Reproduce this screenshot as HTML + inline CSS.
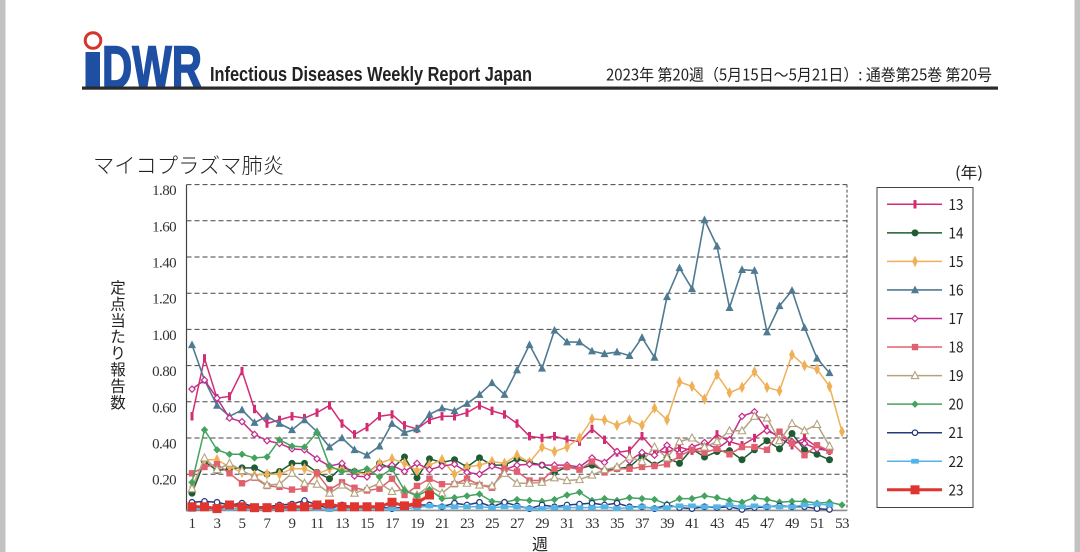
<!DOCTYPE html>
<html lang="ja">
<head>
<meta charset="utf-8">
<title>マイコプラズマ肺炎</title>
<style>
html,body{margin:0;padding:0;background:#fff;}
body{width:1080px;height:552px;overflow:hidden;position:relative;}
svg{position:absolute;left:0;top:0;display:block;}
.num{font-family:"Liberation Serif",serif;font-size:15px;fill:#333;letter-spacing:-0.6px;}
.jp{font-family:"Noto Sans CJK JP","Liberation Sans",sans-serif;fill:#222;}
</style>
</head>
<body>
<svg id="chart" width="1080" height="552" viewBox="0 0 1080 552">
  <rect x="0" y="0" width="5.5" height="552" fill="#c2c2c2"/>
  <rect x="1074.5" y="0" width="5.5" height="552" fill="#c2c2c2"/>
  <g>
    <circle cx="93" cy="40.5" r="7.8" fill="none" stroke="#d3352c" stroke-width="3"/>
    <rect x="85.5" y="52" width="14.5" height="36" fill="#1f4fa3"/>
    <text x="102" y="87.5" font-family="Liberation Sans" font-weight="bold" font-size="59" fill="#1f4fa3" stroke="#1f4fa3" stroke-width="1.6" textLength="100" lengthAdjust="spacingAndGlyphs">DWR</text>
  </g>
  <text x="210" y="81" font-family="Liberation Sans" font-weight="bold" font-size="20.5" fill="#222" textLength="322" lengthAdjust="spacingAndGlyphs">Infectious Diseases Weekly Report Japan</text>
  <text class="jp" x="606" y="80.5" font-size="16" textLength="386" lengthAdjust="spacingAndGlyphs">2023年 第20週（5月15日〜5月21日）: 通巻第25巻 第20号</text>
  <rect x="82" y="86.5" width="916" height="3.2" fill="#2a2a2a"/>
  <text class="jp" x="93" y="173" font-size="21" font-weight="300" textLength="191" lengthAdjust="spacingAndGlyphs">マイコプラズマ肺炎</text>
  <text class="jp" x="955" y="178" font-size="15.5" textLength="28" lengthAdjust="spacingAndGlyphs">(年)</text>
  <g id="yTitle" class="jp" font-size="15.5"></g>
  <text class="jp" x="540" y="550" font-size="16" text-anchor="middle">週</text>
  <g id="grid"></g>
  <g id="yTickLabels"></g>
  <g id="xTickLabels"></g>
  <g id="marks"></g>
  <g id="legend"></g>
</svg>
<script>
const yTicks = [0.20, 0.40, 0.60, 0.80, 1.00, 1.20, 1.40, 1.60, 1.80];
const xTicks = [1,3,5,7,9,11,13,15,17,19,21,23,25,27,29,31,33,35,37,39,41,43,45,47,49,51,53];
const yearLabels = ['13','14','15','16','17','18','19','20','21','22','23'];
const yTitleChars = ['定','点','当','た','り','報','告','数'];

const y13 = [.52,.84,.62,.63,.77,.56,.48,.50,.52,.51,.54,.58,.48,.42,.46,.52,.53,.47,.45,.50,.52,.52,.54,.58,.55,.53,.48,.41,.40,.41,.39,.38,.45,.39,.32,.33,.41,.33,.32,.35,.33,.35,.42,.38,.36,.40,.45,.40,.36,.40,.35,.33];
const y14 = [.095,.27,.22,.23,.235,.235,.20,.215,.26,.26,.21,.175,.24,.215,.205,.26,.23,.295,.18,.285,.265,.28,.24,.29,.25,.25,.285,.265,.25,.21,.24,.23,.25,.22,.23,.24,.30,.25,.29,.26,.34,.295,.325,.33,.28,.335,.385,.34,.425,.335,.31,.28];
const y15 = [.13,.28,.28,.24,.21,.195,.20,.20,.23,.23,.20,.23,.23,.21,.20,.26,.285,.26,.22,.25,.28,.20,.24,.25,.27,.26,.305,.265,.35,.325,.35,.40,.505,.50,.47,.50,.47,.565,.50,.71,.685,.615,.75,.65,.68,.765,.68,.66,.86,.80,.78,.685,.435];
const y16 = [.915,.72,.58,.52,.555,.485,.52,.48,.445,.50,.435,.35,.40,.335,.305,.355,.48,.43,.45,.53,.565,.55,.59,.64,.705,.64,.775,.915,.785,.995,.93,.93,.88,.865,.875,.855,.955,.845,1.18,1.34,1.225,1.605,1.46,1.12,1.33,1.325,.985,1.13,1.215,1.01,.84,.76];
const y17 = [.67,.72,.62,.51,.49,.42,.385,.37,.34,.335,.285,.245,.26,.19,.185,.235,.25,.215,.26,.225,.245,.255,.21,.20,.245,.225,.25,.255,.25,.25,.25,.24,.29,.265,.325,.275,.32,.305,.36,.315,.35,.375,.34,.39,.52,.545,.44,.41,.38,.37,.34,.33];
const y18 = [.205,.24,.255,.205,.15,.18,.135,.13,.115,.12,.205,.115,.155,.125,.11,.12,.175,.085,.135,.175,.145,.145,.175,.14,.125,.23,.215,.165,.165,.23,.24,.225,.27,.21,.23,.23,.24,.245,.255,.30,.335,.32,.34,.31,.35,.35,.335,.435,.37,.305,.36,.33];
const y19 = [.12,.29,.225,.26,.22,.185,.14,.145,.205,.15,.145,.095,.14,.095,.12,.15,.105,.115,.085,.135,.095,.15,.15,.14,.135,.205,.15,.15,.155,.18,.165,.17,.195,.225,.24,.295,.27,.35,.29,.38,.40,.35,.38,.44,.44,.52,.51,.385,.48,.44,.475,.355];
const y20 = [.155,.445,.335,.31,.31,.29,.295,.39,.355,.35,.43,.245,.215,.215,.23,.185,.23,.11,.08,.115,.065,.07,.08,.09,.05,.045,.06,.055,.05,.06,.085,.10,.055,.065,.055,.07,.065,.06,.035,.065,.065,.08,.07,.055,.045,.07,.06,.045,.05,.05,.04,.045,.03];
const y21 = [.045,.05,.045,.03,.04,.02,.02,.03,.035,.055,.03,.01,.03,.02,.02,.02,.01,.02,.03,.03,.02,.04,.03,.045,.02,.045,.025,.01,.03,.02,.03,.035,.04,.03,.04,.02,.02,.01,.03,.015,.01,.02,.015,.02,.005,.015,.02,.025,.02,.02,.01,.005];
const y22 = [.005,.01,.005,.01,.01,.01,.005,.005,.01,.01,.01,.005,.01,.01,.01,.01,.01,.01,.015,.025,.02,.02,.02,.02,.015,.02,.02,.01,.01,.015,.015,.015,.015,.02,.01,.015,.02,.01,.015,.025,.025,.02,.02,.03,.02,.025,.02,.02,.02,.03,.035,.03];
const y23 = [.02,.02,.01,.03,.02,.015,.015,.015,.02,.02,.03,.035,.02,.02,.02,.02,.045,.025,.04,.085];

const seriesValues = [y13,y14,y15,y16,y17,y18,y19,y20,y21,y22,y23];

const STY = [
  {c:'#d22c73',w:1.5,m:'bar'},
  {c:'#1f5c33',w:1.5,m:'circle'},
  {c:'#efb058',w:1.5,m:'thin'},
  {c:'#4f7b92',w:1.6,m:'tri'},
  {c:'#c42d8e',w:1.5,m:'odiamond'},
  {c:'#e0606f',w:1.5,m:'square'},
  {c:'#b5a27f',w:1.5,m:'otri'},
  {c:'#44a35e',w:1.5,m:'diamond'},
  {c:'#27397a',w:1.5,m:'ocircle'},
  {c:'#55b4e6',w:1.5,m:'wide'},
  {c:'#e0352f',w:3,m:'big'}
];
const NS = 'http://www.w3.org/2000/svg';
const PX0 = 192, PXSTEP = 12.5, PY0 = 510.4, PYSCALE = 181;
function xScale(w){ return PX0 + (w - 1) * PXSTEP; }
function yScale(v){ return PY0 - v * PYSCALE; }
function mk(tag, attrs, parent){
  const el = document.createElementNS(NS, tag);
  for (const k in attrs) el.setAttribute(k, attrs[k]);
  parent.appendChild(el);
  return el;
}
function marker(type, x, y, c, parent){
  let el;
  const tri = (h, b) => `${x},${y-h} ${x+b},${y+h*0.75} ${x-b},${y+h*0.75}`;
  const dia = (a, b) => `${x},${y-b} ${x+a},${y} ${x},${y+b} ${x-a},${y}`;
  if (type === 'bar') el = mk('rect',{x:x-1.5,y:y-4.2,width:3,height:8.4,fill:c},parent);
  else if (type === 'circle') el = mk('circle',{cx:x,cy:y,r:3.5,fill:c},parent);
  else if (type === 'thin') el = mk('polygon',{points:dia(2.9,5.8),fill:c},parent);
  else if (type === 'tri') el = mk('polygon',{points:tri(4.4,4),fill:c},parent);
  else if (type === 'odiamond') el = mk('polygon',{points:dia(3.1,3.1),fill:'#fff',stroke:c,'stroke-width':1.2},parent);
  else if (type === 'square') el = mk('rect',{x:x-3.2,y:y-3.2,width:6.4,height:6.4,fill:c},parent);
  else if (type === 'otri') el = mk('polygon',{points:tri(4,3.7),fill:'#fff',stroke:c,'stroke-width':1.1},parent);
  else if (type === 'diamond') el = mk('polygon',{points:dia(3.7,3.7),fill:c},parent);
  else if (type === 'ocircle') el = mk('circle',{cx:x,cy:y,r:2.7,fill:'#fff',stroke:c,'stroke-width':1.3},parent);
  else if (type === 'wide') el = mk('rect',{x:x-3.8,y:y-2.4,width:7.6,height:4.8,fill:c},parent);
  else el = mk('rect',{x:x-4.5,y:y-4.5,width:9,height:9,fill:c},parent);
  return el;
}

const grid = document.getElementById('grid');
yTicks.forEach(function(t){
  const line = mk('line',{x1:186.5,x2:847,y1:yScale(t),y2:yScale(t),stroke:'#444','stroke-width':1,'stroke-dasharray':'5 3'},grid);
  
  
});
const rightEdge = mk('line',{x1:847,x2:847,y1:yScale(1.8),y2:PY0,stroke:'#444','stroke-width':1,'stroke-dasharray':'3 2'},grid);


const yAxis = mk('line',{x1:186.5,x2:186.5,y1:yScale(1.8),y2:PY0+1,stroke:'#444','stroke-width':1.2},grid);


const xAxis = mk('line',{x1:186,x2:847,y1:PY0,y2:PY0,stroke:'#8c8c8c','stroke-width':1.6},grid);



const yl = document.getElementById('yTickLabels');
yTicks.forEach(function(t){
  const el = mk('text',{x:176,y:yScale(t)+10.5,'text-anchor':'end','class':'num'},yl);
  el.textContent = t.toFixed(2);
  
  
});
const xl = document.getElementById('xTickLabels');
xTicks.forEach(function(w){
  const el = mk('text',{x:xScale(w),y:528,'text-anchor':'middle','class':'num'},xl);
  el.textContent = w;
  
  
});
const yt = document.getElementById('yTitle');
yTitleChars.forEach(function(ch, i){
  const el = mk('text',{x:118,y:293 + i * 16.4,'text-anchor':'middle'},yt);
  el.textContent = ch;
  
  
});

const marks = document.getElementById('marks');
seriesValues.forEach(function(vals, s){
  const st = STY[s];
  const g = mk('g',{},marks);
  
  
  const pts = vals.map(function(v, i){ return xScale(i + 1) + ',' + yScale(v); }).join(' ');
  const line = mk('polyline',{points:pts,fill:'none',stroke:st.c,'stroke-width':st.w,'stroke-linejoin':'round'},g);
  
  
  vals.forEach(function(v, i){
    const m = marker(st.m, xScale(i + 1), yScale(v), st.c, g);
    
    
  });
});

const lg = document.getElementById('legend');
const box = mk('rect',{x:877,y:187.5,width:96,height:320,fill:'#fff',stroke:'#444','stroke-width':1},lg);


yearLabels.forEach(function(lab, i){
  const st = STY[i];
  const ly = 204.3 + i * 28.55;
  const g = mk('g',{},lg);
  
  
  mk('line',{x1:887,x2:942,y1:ly,y2:ly,stroke:st.c,'stroke-width':st.w},g);
  marker(st.m, 915, ly, st.c, g);
  const t = mk('text',{x:948.5,y:ly+5.5,'font-size':15,'class':'jp',textLength:15,lengthAdjust:'spacingAndGlyphs'},g);
  t.textContent = lab;
  
  
});
</script>
</body>
</html>
